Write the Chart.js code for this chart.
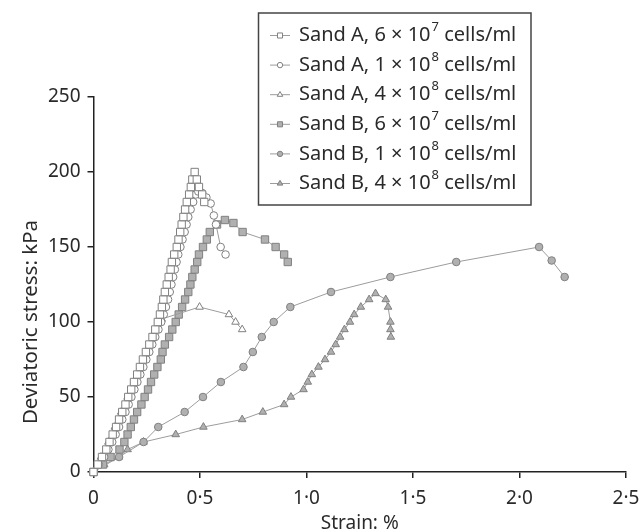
<!DOCTYPE html>
<html>
<head>
<meta charset="utf-8">
<script src="https://cdn.jsdelivr.net/npm/chart.js@4.4.1/dist/chart.umd.min.js"></script>
<style>
  html, body { margin: 0; padding: 0; background: #fff; }
  #wrap { width: 643px; height: 532px; }
</style>
</head>
<body>
<div id="wrap"><canvas id="chart" width="643" height="532"></canvas></div>
<script>
// ===== Data (strain %, deviatoric stress kPa) =====
const strainA6e7 = [0, 0.02, 0.04, 0.06, 0.075, 0.09, 0.106, 0.12, 0.135, 0.15, 0.163, 0.177, 0.19, 0.205, 0.218,
  0.232, 0.246, 0.262, 0.277, 0.29, 0.302, 0.312, 0.321, 0.328, 0.335, 0.344, 0.353, 0.362, 0.368, 0.379,
  0.391, 0.399, 0.407, 0.414, 0.422, 0.43, 0.438, 0.449, 0.457, 0.464, 0.475, 0.485, 0.495, 0.51, 0.52];
const stressA6e7 = [0, 5, 10, 15, 20, 25, 30, 35, 40, 45, 50, 55, 60, 65, 70,
  75, 80, 85, 90, 95, 100, 105, 110, 115, 120, 125, 130, 135, 140, 145,
  150, 155, 160, 165, 170, 175, 180, 185, 190, 195, 200, 195, 190, 185, 180];

const strainA1e8 = [0, 0.025, 0.05, 0.07, 0.088, 0.104, 0.12, 0.135, 0.15, 0.165, 0.178, 0.192, 0.206, 0.22, 0.234,
  0.248, 0.262, 0.276, 0.29, 0.305, 0.318, 0.33, 0.34, 0.35, 0.358, 0.366, 0.374, 0.382, 0.39, 0.398,
  0.408, 0.418, 0.428, 0.437, 0.445, 0.456, 0.468, 0.48, 0.492, 0.51, 0.53, 0.55, 0.565, 0.575, 0.597, 0.62];
const stressA1e8 = [0, 5, 10, 15, 20, 25, 30, 35, 40, 45, 50, 55, 60, 65, 70,
  75, 80, 85, 90, 95, 100, 105, 110, 115, 120, 125, 130, 135, 140, 145,
  150, 155, 160, 165, 170, 175, 180, 185, 187, 186, 183, 179, 171, 165, 150, 145];

const strainA4e8 = [0, 0.035, 0.07, 0.1, 0.13, 0.16, 0.19, 0.22, 0.25, 0.28, 0.32, 0.498, 0.636, 0.667, 0.698];
const stressA4e8 = [0, 10, 20, 30, 40, 50, 60, 70, 80, 90, 102, 110, 105, 100, 95];

const strainB6e7 = [0, 0.045, 0.08, 0.122, 0.145, 0.16, 0.175, 0.19, 0.205, 0.225, 0.24, 0.256, 0.27, 0.285, 0.3,
  0.316, 0.324, 0.335, 0.355, 0.37, 0.386, 0.4, 0.416, 0.43, 0.445, 0.455, 0.464, 0.475, 0.487, 0.495,
  0.514, 0.532, 0.546, 0.58, 0.617, 0.657, 0.7, 0.805, 0.855, 0.895, 0.912];
const stressB6e7 = [0, 5, 10, 15, 20, 25, 30, 35, 40, 45, 50, 55, 60, 65, 70,
  75, 80, 85, 90, 95, 100, 105, 110, 115, 120, 125, 130, 135, 140, 145,
  150, 155, 160, 165, 168, 166, 160, 155, 150, 145, 140];

const strainB1e8 = [0, 0.12, 0.235, 0.304, 0.428, 0.514, 0.598, 0.704, 0.748, 0.79, 0.846, 0.924, 1.115, 1.394,
  1.703, 2.092, 2.151, 2.212];
const stressB1e8 = [0, 10, 20, 30, 40, 50, 60, 70, 80, 90, 100, 110, 120, 130, 140, 150, 141, 130];

const strainB4e8 = [0, 0.05, 0.118, 0.16, 0.235, 0.386, 0.516, 0.698, 0.795, 0.895, 0.927, 0.986, 1.006, 1.025,
  1.056, 1.087, 1.115, 1.137, 1.158, 1.178, 1.204, 1.224, 1.255, 1.294, 1.324, 1.372, 1.383, 1.394, 1.394, 1.396];
const stressB4e8 = [0, 5, 10, 15, 20, 25, 30, 35, 40, 45, 50, 55, 60, 65,
  70, 75, 80, 85, 90, 95, 100, 105, 110, 115, 119, 115, 110, 100, 95, 90];

const legendNames = ["Sand A, 6 \u00d7 10", "Sand A, 1 \u00d7 10", "Sand A, 4 \u00d7 10",
                     "Sand B, 6 \u00d7 10", "Sand B, 1 \u00d7 10", "Sand B, 4 \u00d7 10"];
const legendPowers = ["7", "8", "8", "7", "8", "8"];
const legendUnit = " cells/ml";

const xTicks = [0, 0.5, 1, 1.5, 2, 2.5];
const yTicks = [0, 50, 100, 150, 200, 250];

// ===== Styling =====
const FONT = "'Noto Sans', sans-serif";
const TEXT = "#2a2a2a";
const LINE = "#9c9c9c";
const EDGE = "#808080";
const FILL = "#b0b0b0";

const toPoints = (xs, ys) => xs.map((x, i) => ({ x, y: ys[i] }));

function mkSeries(label, xs, ys, shape, filled) {
  const r = shape === "rect" ? 5.2 : (shape === "circle" ? 3.8 : 4.4);
  return {
    label,
    data: toPoints(xs, ys),
    showLine: true,
    borderColor: LINE,
    borderWidth: 1,
    pointStyle: shape,
    pointRadius: r,
    pointHoverRadius: r,
    pointBorderColor: EDGE,
    pointBorderWidth: 1,
    pointBackgroundColor: filled ? FILL : "#fff",
    clip: false,
    _legendShape: shape,
    _legendFilled: filled
  };
}

const datasets = [
  mkSeries("A6e7", strainA6e7, stressA6e7, "rect", false),
  mkSeries("A1e8", strainA1e8, stressA1e8, "circle", false),
  mkSeries("A4e8", strainA4e8, stressA4e8, "triangle", false),
  mkSeries("B6e7", strainB6e7, stressB6e7, "rect", true),
  mkSeries("B1e8", strainB1e8, stressB1e8, "circle", true),
  mkSeries("B4e8", strainB4e8, stressB4e8, "triangle", true)
];

// legend box + rotated y title, drawn straight onto the canvas
const boxLegend = {
  id: "boxLegend",
  afterDraw(chart) {
    const ctx = chart.ctx;
    const bx = 258.5, by = 13, bw = 272.5, bh = 192;
    ctx.save();
    ctx.strokeStyle = "#444";
    ctx.lineWidth = 1.5;
    ctx.strokeRect(bx, by, bw, bh);

    const y0 = 35.5, dy = 29.6;
    chart.data.datasets.forEach((ds, i) => {
      const y = y0 + i * dy;
      ctx.strokeStyle = LINE;
      ctx.lineWidth = 1;
      ctx.beginPath();
      ctx.moveTo(270, y);
      ctx.lineTo(290, y);
      ctx.stroke();
      ctx.strokeStyle = EDGE;
      ctx.fillStyle = ds._legendFilled ? FILL : "#fff";
      const sr = ds._legendShape === "rect" ? 3.6 : (ds._legendShape === "circle" ? 2.7 : 3.2);
      Chart.helpers.drawPoint(ctx, { pointStyle: ds._legendShape, radius: sr, borderWidth: 1 }, 280, y);

      ctx.fillStyle = TEXT;
      ctx.textBaseline = "middle";
      ctx.textAlign = "left";
      ctx.font = "20px " + FONT;
      const base = legendNames[i];
      ctx.fillText(base, 299, y);
      let x = 299 + ctx.measureText(base).width;
      ctx.font = "13px " + FONT;
      ctx.fillText(legendPowers[i], x + 1, y - 8);
      x += ctx.measureText(legendPowers[i]).width + 1;
      ctx.font = "20px " + FONT;
      ctx.fillText(legendUnit, x, y);
    });

    // y axis title
    ctx.translate(31, 322);
    ctx.rotate(-Math.PI / 2);
    ctx.textAlign = "center";
    ctx.textBaseline = "middle";
    ctx.font = "20.5px " + FONT;
    ctx.fillStyle = TEXT;
    ctx.fillText("Deviatoric stress: kPa", 0, 0);
    ctx.restore();
  }
};

const axisStyle = {
  grid: { drawOnChartArea: false, drawTicks: true, tickLength: 6, color: "#222", lineWidth: 1.5 },
  border: { color: "#222", width: 1.5 }
};

new Chart(document.getElementById("chart").getContext("2d"), {
  type: "scatter",
  data: { datasets },
  options: {
    responsive: false,
    animation: false,
    events: [],
    layout: { padding: { top: 97, right: 17, left: 0, bottom: 0 } },
    plugins: { legend: { display: false }, tooltip: { enabled: false } },
    scales: {
      x: {
        type: "linear",
        min: 0, max: 2.5,
        afterBuildTicks: (s) => { s.ticks = xTicks.map(v => ({ value: v })); },
        afterFit: (s) => { s.height = 60; s.paddingLeft = 0; s.paddingRight = 0; },
        ticks: {
          padding: 9,
          color: TEXT,
          font: { family: FONT, size: 19 },
          maxRotation: 0,
          callback: (v) => v === 0 ? "0" : v.toFixed(1).replace(".", "\u00b7")
        },
        title: { display: true, text: "Strain: %", color: TEXT, font: { family: FONT, size: 19 }, padding: { top: 0, bottom: -3 } },
        ...axisStyle
      },
      y: {
        type: "linear",
        min: 0, max: 250,
        afterBuildTicks: (s) => { s.ticks = yTicks.map(v => ({ value: v })); },
        afterFit: (s) => { s.width = 93.5; s.paddingTop = 0; s.paddingBottom = 0; },
        ticks: {
          padding: 7,
          color: TEXT,
          font: { family: FONT, size: 19 }
        },
        ...axisStyle
      }
    }
  },
  plugins: [boxLegend]
});
</script>
</body>
</html>
